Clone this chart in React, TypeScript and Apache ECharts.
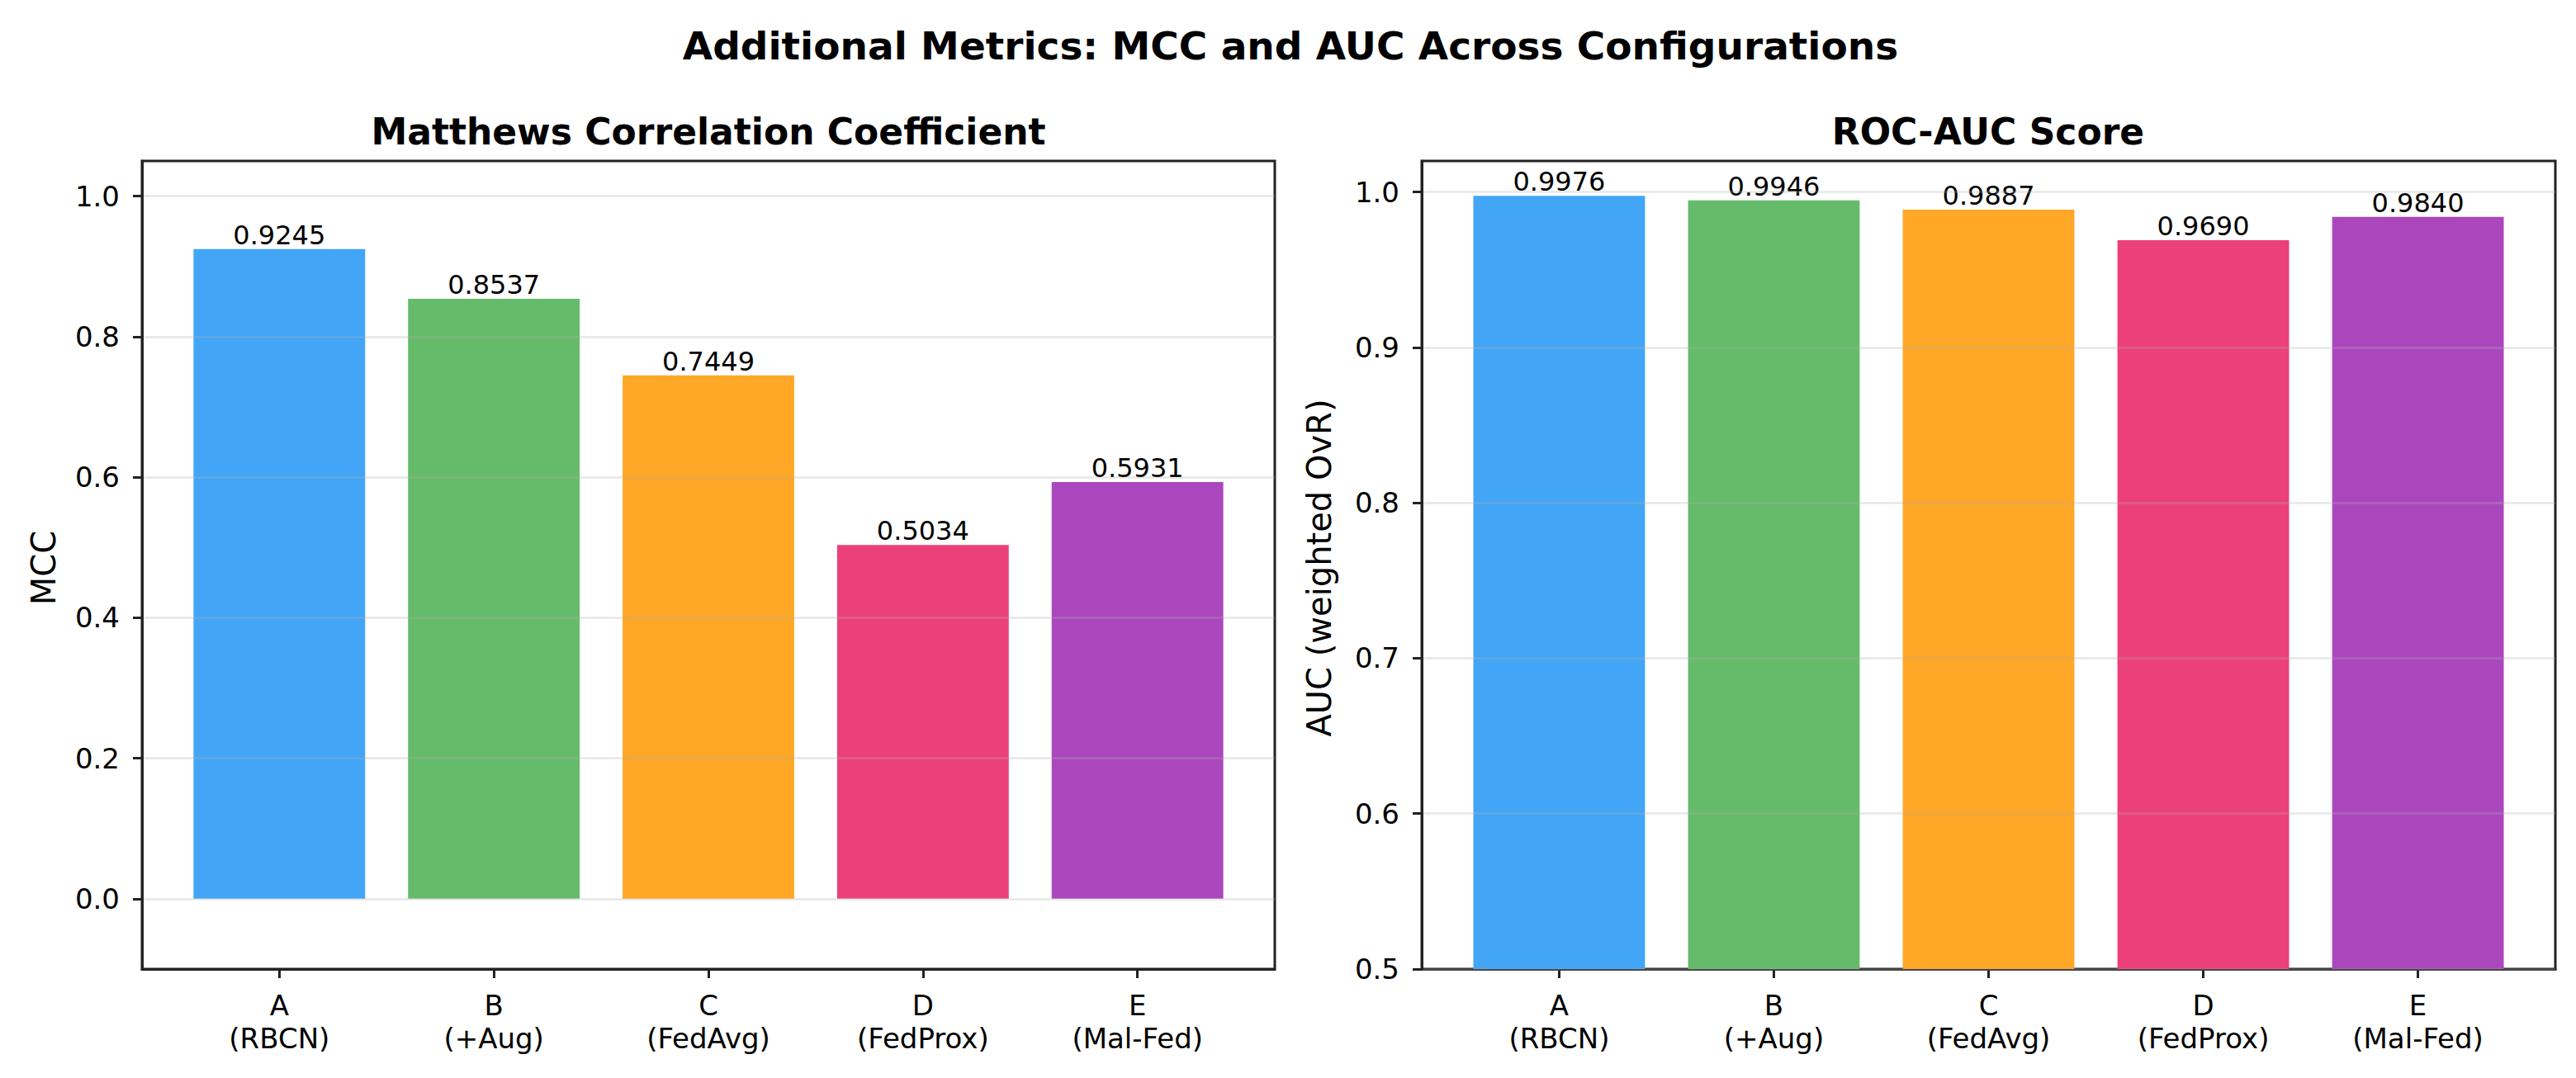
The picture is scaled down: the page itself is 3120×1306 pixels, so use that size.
import React, { useEffect, useRef } from "react";
import * as echarts from "echarts";

const letters = ["A", "B", "C", "D", "E"];
const configNames = ["(RBCN)", "(+Aug)", "(FedAvg)", "(FedProx)", "(Mal-Fed)"];
const mccValues = [0.9245, 0.8537, 0.7449, 0.5034, 0.5931];
const aucValues = [0.9976, 0.9946, 0.9887, 0.969, 0.984];
const barColors = ["#42A5F5", "#66BB6A", "#FFA726", "#EC407A", "#AB47BC"];
const mccTicks = [0, 0.2, 0.4, 0.6, 0.8, 1.0];
const aucTicks = [0.5, 0.6, 0.7, 0.8, 0.9, 1.0];
const xPositions = [0, 1, 2, 3, 4];

const FONT = "DejaVu Sans";
const W = 3120;
const H = 1306;
const GRID_TOP = 195;
const GRID_H = 979;
const GRID_W = 1372;
const LEFT1 = 172;
const LEFT2 = 1722;
const X_MIN = -0.64;
const X_MAX = 4.64;
const BAR_W = (0.8 * GRID_W) / (X_MAX - X_MIN);

function makeX(gridIndex: number) {
  return {
    type: "value",
    gridIndex,
    min: X_MIN,
    max: X_MAX,
    axisLine: { show: true, onZero: false, lineStyle: { color: "#222", width: 3 } },
    axisTick: { show: true, customValues: xPositions, length: 11, lineStyle: { color: "#222", width: 3 } },
    axisLabel: {
      show: true,
      customValues: xPositions,
      formatter: (v: number) => `${letters[Math.round(v)]}\n${configNames[Math.round(v)]}`,
      fontSize: 34,
      lineHeight: 40,
      margin: 24,
      color: "#000",
      fontFamily: FONT,
    },
    splitLine: { show: false },
  };
}

function makeY(gridIndex: number, min: number, max: number, ticks: number[]) {
  return {
    type: "value",
    gridIndex,
    min,
    max,
    z: 5,
    axisLine: { show: true, onZero: false, lineStyle: { color: "#222", width: 3 } },
    axisTick: { show: true, customValues: ticks, length: 11, lineStyle: { color: "#222", width: 3 } },
    axisLabel: {
      show: true,
      customValues: ticks,
      formatter: (v: number) => v.toFixed(1),
      fontSize: 34,
      margin: 27,
      color: "#000",
      fontFamily: FONT,
    },
    splitLine: { show: true, lineStyle: { color: "rgba(176,176,176,0.3)", width: 2.5 } },
  };
}

function makeSeries(idx: number, values: number[]) {
  return {
    type: "bar",
    xAxisIndex: idx,
    yAxisIndex: idx,
    barWidth: BAR_W,
    clip: true,
    data: values.map((v, i) => ({ value: [xPositions[i], v], itemStyle: { color: barColors[i] } })),
    label: {
      show: true,
      position: "top",
      distance: 1,
      formatter: (p: any) => p.value[1].toFixed(4),
      fontSize: 32,
      color: "#000",
      fontFamily: FONT,
    },
  };
}

export default function App() {
  const ref = useRef<HTMLDivElement>(null);
  useEffect(() => {
    if (!ref.current) return;
    const chart = echarts.init(ref.current, null, { renderer: "svg" });
    chart.setOption({
      animation: false,
      backgroundColor: "#fff",
      textStyle: { fontFamily: FONT },
      grid: [
        { left: LEFT1, top: GRID_TOP, width: GRID_W, height: GRID_H, show: true, borderColor: "#222", borderWidth: 3, backgroundColor: "transparent" },
        { left: LEFT2, top: GRID_TOP, width: GRID_W + 1, height: GRID_H, show: true, borderColor: "#222", borderWidth: 3, backgroundColor: "transparent" },
      ],
      xAxis: [makeX(0), makeX(1)],
      yAxis: [makeY(0, -0.1, 1.05, mccTicks), makeY(1, 0.5, 1.02, aucTicks)],
      series: [makeSeries(0, mccValues), makeSeries(1, aucValues)],
      graphic: [
        {
          type: "text",
          x: 1563,
          y: 55,
          style: { text: "Additional Metrics: MCC and AUC Across Configurations", font: `bold 47px '${FONT}'`, fill: "#000", align: "center", verticalAlign: "middle" },
        },
        {
          type: "text",
          x: LEFT1 + GRID_W / 2,
          y: 159,
          style: { text: "Matthews Correlation Coefficient", font: `bold 44px '${FONT}'`, fill: "#000", align: "center", verticalAlign: "middle" },
        },
        {
          type: "text",
          x: LEFT2 + GRID_W / 2,
          y: 159,
          style: { text: "ROC-AUC Score", font: `bold 44px '${FONT}'`, fill: "#000", align: "center", verticalAlign: "middle" },
        },
        {
          type: "text",
          x: 53,
          y: 688,
          rotation: Math.PI / 2,
          style: { text: "MCC", font: `40px '${FONT}'`, fill: "#000", align: "center", verticalAlign: "middle" },
        },
        {
          type: "text",
          x: 1598,
          y: 688,
          rotation: Math.PI / 2,
          style: { text: "AUC (weighted OvR)", font: `40px '${FONT}'`, fill: "#000", align: "center", verticalAlign: "middle" },
        },
      ],
    });
    return () => chart.dispose();
  }, []);
  return <div ref={ref} style={{ position: "fixed", left: 0, top: 0, width: W, height: H, background: "#fff" }} />;
}
